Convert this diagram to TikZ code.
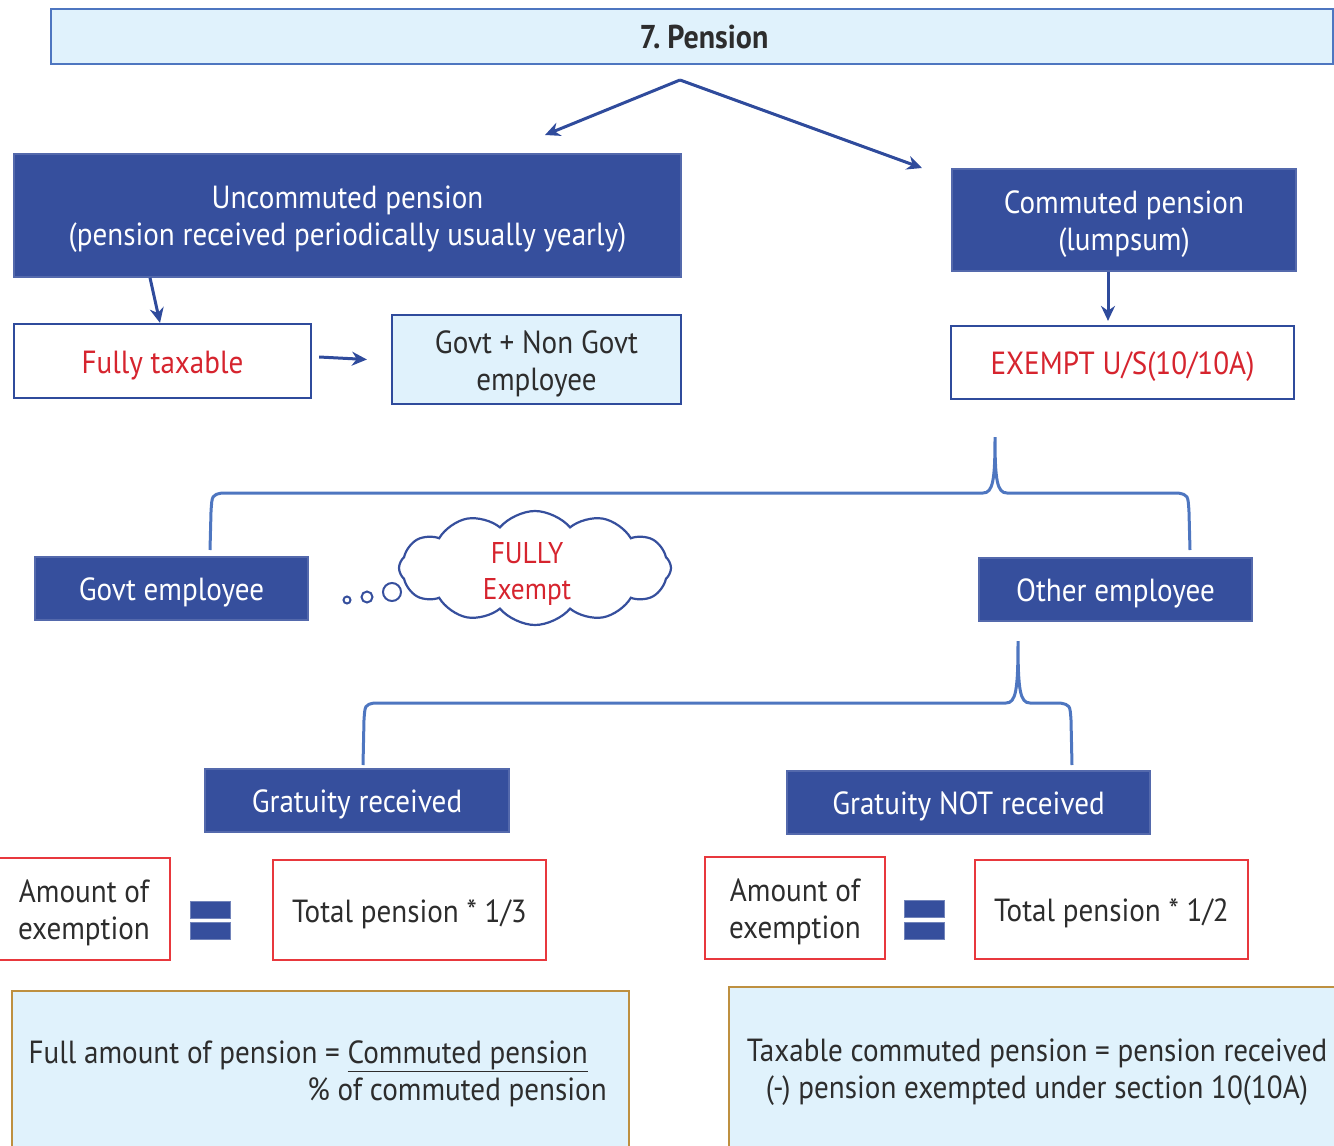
\documentclass[tikz,border=0pt]{standalone}
\usepackage{fontspec}
\setmainfont{PT Sans}[FakeStretch=0.91]
\usetikzlibrary{shapes.symbols,arrows.meta}
\definecolor{dkblue}{RGB}{54,79,157}
\definecolor{arblue}{RGB}{47,75,156}
\definecolor{lnblue}{RGB}{78,118,192}
\definecolor{ltblue}{RGB}{224,242,252}
\definecolor{redtxt}{RGB}{214,36,46}
\definecolor{redbd}{RGB}{232,56,61}
\definecolor{goldbd}{RGB}{190,144,64}
\definecolor{dktxt}{RGB}{45,45,45}
\newcommand\upstrut{\rule{0pt}{31pt}}
\tikzset{
  txt/.style={font=\fontsize{32}{37}\selectfont, align=center, inner sep=0pt},
  darkbox/.style={txt, draw=dkblue!85!white, line width=1.5pt, fill=dkblue, text=white},
  whitebox/.style={txt, draw=arblue, line width=2.2pt, fill=white, text=redtxt},
  lightbox/.style={txt, draw=arblue, line width=2.2pt, fill=ltblue, text=dktxt},
  redbox/.style={txt, draw=redbd, line width=2.2pt, fill=white, text=dktxt},
  notebox/.style={txt, draw=goldbd, line width=2.2pt, fill=ltblue, text=dktxt},
  arr/.style={draw=arblue, line width=3pt, -{Stealth[length=15pt,width=14pt]}},
  brace/.style={draw=lnblue, line width=3pt},
  eqbar/.style={fill=dkblue, draw=dkblue!70!white, line width=0.8pt, inner sep=0pt, minimum width=40pt, minimum height=17pt},
  bubble/.style={circle, draw=dkblue, line width=2pt, inner sep=0pt},
}
\begin{document}
\begin{tikzpicture}[x=1pt,y=-1pt]
\useasboundingbox (0,0) rectangle (1334,1146);
% title
\node[lightbox, draw=lnblue, line width=1.6pt, minimum width=1282pt, minimum height=55pt] (title) at (692,36.5) {};
\node[txt, text=dktxt, font=\fontsize{33}{36}\selectfont\bfseries] (titletext) at (704,37) {7.\hspace{7pt}Pension};
% level 1
\node[darkbox, minimum width=667pt, minimum height=123pt] (unc) at (347.5,215.5) {\upstrut Uncommuted pension\\(pension received periodically usually yearly)};
\node[darkbox, minimum width=344pt, minimum height=102pt] (com) at (1124,220) {\upstrut Commuted pension\\(lumpsum)};
\coordinate (split) at (680,80);
\coordinate (uncin) at (545,135);
\coordinate (comin) at (922,168);
\draw[arr] (split) -- (uncin);
\draw[arr] (split) -- (comin);
% level 2
\node[whitebox, minimum width=297pt, minimum height=74pt] (ft) at (162.5,361) {\upstrut Fully taxable};
\node[lightbox, minimum width=289pt, minimum height=89pt] (gng) at (536.5,359.5) {\upstrut Govt + Non Govt\\employee};
\node[whitebox, minimum width=343pt, minimum height=73pt] (ex) at (1122.5,362.5) {\upstrut EXEMPT U/S(10/10A)};
\draw[arr] ([xshift=-197.5pt]unc.south) -- ([xshift=-2.5pt]ft.north);
\draw[arr] ([shift={(7pt,4pt)}]ft.east) -- ([shift={(-24pt,0pt)}]gng.west);
\draw[arr] ([xshift=-16pt]com.south) -- ([shift={(-14.5pt,4pt)}]ex.north);
% level 3
\node[darkbox, minimum width=273pt, minimum height=63pt] (govt) at (171.5,588.5) {\upstrut Govt employee};
\node[darkbox, minimum width=273pt, minimum height=63pt] (other) at (1115.5,589.5) {\upstrut Other employee};
\coordinate (b1tip) at (995,437);
\coordinate (b1l) at (210,550);
\coordinate (b1r) at (1190,550);
\draw[brace] (b1l) -- (211,512) .. controls (212,495) .. (222,493) -- (983,493)
  .. controls (993,493) and (995,480) .. (b1tip)
  .. controls (995,480) and (997,493) .. (1007,493) -- (1178,493)
  .. controls (1188,495) .. (1189,512) -- (b1r);
% cloud
\node[cloud, cloud puffs=12, cloud puff arc=100, aspect=2.4, draw=dkblue, line width=2.2pt, minimum width=272pt, minimum height=114pt, inner sep=0pt] (cloud) at (535,568) {};
\node[txt, text=redtxt, font=\fontsize{30}{36}\selectfont] (cloudtext) at (527,569) {\upstrut FULLY\\Exempt};
\node[bubble, minimum size=18pt] (c3) at (392,592) {};
\node[bubble, minimum size=11pt] (c2) at (367,597) {};
\node[bubble, minimum size=7pt] (c1) at (347,600) {};
% level 4
\node[darkbox, minimum width=304pt, minimum height=63pt] (gr) at (357,800.5) {\upstrut Gratuity received};
\node[darkbox, minimum width=363pt, minimum height=63pt] (gnr) at (968.5,802.5) {\upstrut Gratuity NOT received};
\coordinate (b2tip) at (1018,641);
\coordinate (b2l) at (363,765);
\coordinate (b2r) at (1072,765);
\draw[brace] (b2l) -- (364,720) .. controls (365,705) .. (374,703) -- (1006,703)
  .. controls (1016,703) and (1018,690) .. (b2tip)
  .. controls (1018,690) and (1020,703) .. (1030,703) -- (1060,703)
  .. controls (1070,705) .. (1071,720) -- (b2r);
% formulas
\node[redbox, minimum width=172pt, minimum height=102pt] (amt1) at (84,909) {\upstrut Amount of\\exemption};
\node[eqbar] (eq1a) at (210,909.5) {};
\node[eqbar] (eq1b) at (210,930.5) {};
\node[redbox, minimum width=273pt, minimum height=100pt] (tot1) at (409.5,910) {\upstrut Total pension * 1/3};
\node[redbox, minimum width=180pt, minimum height=102pt] (amt2) at (795,908) {\upstrut Amount of\\exemption};
\node[eqbar] (eq2a) at (924.5,909) {};
\node[eqbar] (eq2b) at (924.5,931) {};
\node[redbox, minimum width=273pt, minimum height=99pt] (tot2) at (1111.5,909.5) {\upstrut Total pension * 1/2};
% notes
\node[notebox, minimum width=617pt, minimum height=180pt, anchor=north west] (note1) at (11,990) {};
\node[txt, text=dktxt, align=right, anchor=east] (note1t) at (607,1070) {\upstrut Full amount of pension = \underline{Commuted pension}\hspace*{19pt}\\\% of commuted pension};
\node[notebox, minimum width=620pt, minimum height=180pt, anchor=north west] (note2) at (728,986) {};
\node[txt, text=dktxt] (note2t) at (1037,1068) {\upstrut Taxable commuted pension = pension received\\(-) pension exempted under section 10(10A)};
\end{tikzpicture}
\end{document}
